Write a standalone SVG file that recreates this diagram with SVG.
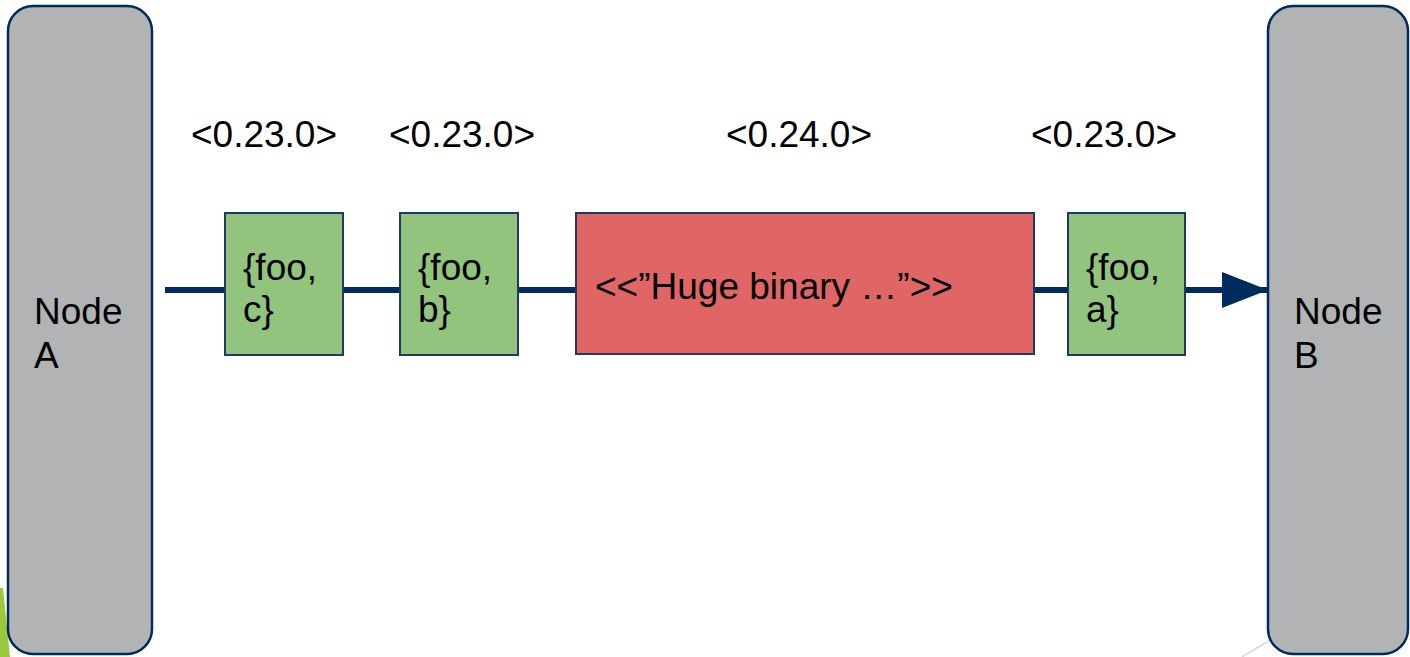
<svg xmlns="http://www.w3.org/2000/svg" width="1410" height="657" viewBox="0 0 1410 657">
  <defs>
    <style>
      .node { fill: #B2B3B5; stroke: #002B5E; stroke-width: 2.5; }
      .msg { fill: #93C47D; stroke: #1F3864; stroke-width: 2; }
      .big { fill: #E06666; stroke: #1F3864; stroke-width: 2; }
      .t { font-family: "Liberation Sans", Arial, sans-serif; font-size: 37px; fill: #000; }
      .lbl { text-anchor: middle; }
      .wire { stroke: #002B5E; stroke-width: 6; fill: none; }
    </style>
    <marker id="arrow" markerUnits="userSpaceOnUse" markerWidth="48" markerHeight="38" refX="46" refY="18" orient="auto">
      <polygon points="0,0 46,18 0,36" fill="#002B5E"/>
    </marker>
  </defs>
  <rect width="1410" height="657" fill="#FFFFFF"/>
  <polygon points="0,588 3,588 10,657 0,657" fill="#9BC83B"/>
  <line x1="1242" y1="657" x2="1275" y2="637" stroke="#D9D9D9" stroke-width="1.5"/>

  <g id="connectors">
    <line class="wire" x1="165" y1="290" x2="1268" y2="290" marker-end="url(#arrow)"/>
  </g>

  <g id="nodeA">
    <rect class="node" x="8" y="6" width="144" height="648" rx="25" ry="25"/>
    <text class="t" x="34" y="324">Node</text>
    <text class="t" x="34" y="368">A</text>
  </g>
  <g id="nodeB">
    <rect class="node" x="1268" y="6" width="140" height="648" rx="25" ry="25"/>
    <text class="t" x="1294" y="324">Node</text>
    <text class="t" x="1294" y="368">B</text>
  </g>

  <g id="label1"><text class="t lbl" x="264" y="147">&lt;0.23.0&gt;</text></g>
  <g id="label2"><text class="t lbl" x="462" y="147">&lt;0.23.0&gt;</text></g>
  <g id="label3"><text class="t lbl" x="799" y="147">&lt;0.24.0&gt;</text></g>
  <g id="label4"><text class="t lbl" x="1104" y="147">&lt;0.23.0&gt;</text></g>

  <g id="msgC">
    <rect class="msg" x="225" y="213" width="118" height="142"/>
    <text class="t" x="243" y="280">{foo,</text>
    <text class="t" x="243" y="322">c}</text>
  </g>
  <g id="msgB">
    <rect class="msg" x="400" y="213" width="118" height="142"/>
    <text class="t" x="418" y="280">{foo,</text>
    <text class="t" x="418" y="322">b}</text>
  </g>
  <g id="msgHuge">
    <rect class="big" x="576" y="213" width="458" height="141"/>
    <text class="t" x="595" y="299">&lt;&lt;”Huge binary …”&gt;&gt;</text>
  </g>
  <g id="msgA">
    <rect class="msg" x="1068" y="213" width="117" height="142"/>
    <text class="t" x="1086" y="280">{foo,</text>
    <text class="t" x="1086" y="322">a}</text>
  </g>
</svg>
